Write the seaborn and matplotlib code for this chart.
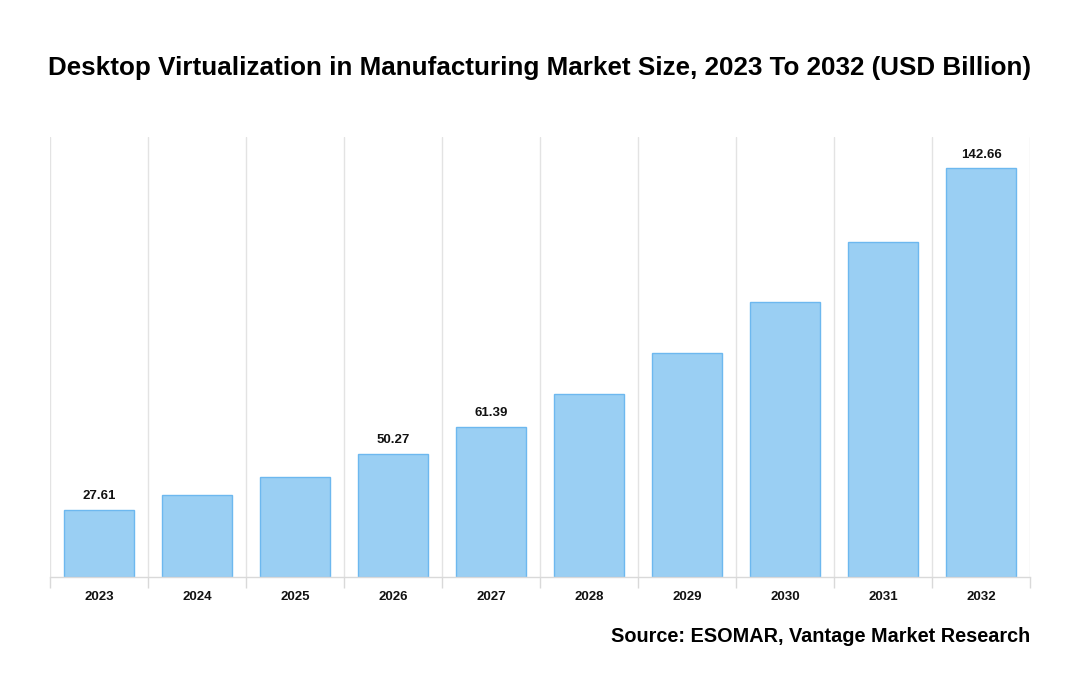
import matplotlib
matplotlib.use("Agg")
import matplotlib.pyplot as plt
import seaborn as sns
import pandas as pd
import numpy as np

years = ["2023", "2024", "2025", "2026", "2027", "2028", "2029", "2030", "2031", "2032"]
heights = [27.61, 33.6, 41.0, 50.27, 61.39, 75.0, 91.8, 112.3, 136.9, 167.2]
label_text = ["27.61", "", "", "50.27", "61.39", "", "", "", "", "142.66"]

sns.set_theme(style="white")
plt.rcParams['font.family'] = ['Liberation Sans', 'DejaVu Sans']

fig = plt.figure(figsize=(10.8, 7.0), dpi=100)
ax = fig.add_axes([50/1080, 1-577/700, 980/1080, 440/700])

df = pd.DataFrame({"year": years, "value": heights})
sns.barplot(data=df, x="year", y="value", ax=ax, color="#9ACFF3", saturation=1,
            width=0.714, edgecolor="#6DB8EF", linewidth=1.0)

ax.set_xlim(-0.5, len(years) - 0.5)
ax.set_ylim(0, 180)
ax.set_xlabel("")
ax.set_ylabel("")
ax.set_yticks([])
for s in ["top", "right", "left"]:
    ax.spines[s].set_visible(False)
ax.spines["bottom"].set_color("#d9d9d9")
ax.spines["bottom"].set_linewidth(1)

ax.set_xticks(np.arange(-0.5, len(years), 1.0), minor=True)
ax.grid(True, which="minor", axis="x", color="#e3e3e3", linewidth=1)
ax.grid(False, which="major")
ax.tick_params(axis="x", which="minor", length=8, color="#d9d9d9", width=1, bottom=True)
ax.tick_params(axis="x", which="major", length=0, pad=10)
for t in ax.get_xticklabels():
    t.set_fontweight("bold")
    t.set_fontsize(9.5)
    t.set_color("#111111")

for i, (h, lab) in enumerate(zip(heights, label_text)):
    if lab:
        ax.annotate(lab, (i, h), xytext=(0, 5.5), textcoords="offset points",
                    ha="center", va="bottom", fontsize=9.5, fontweight="bold", color="#111111")

title = fig.text(540/1080, 1-68/700, "Desktop Virtualization in Manufacturing Market Size, 2023 To 2032 (USD Billion)",
                 ha="center", va="center", fontsize=20, fontweight="bold", color="#000000")
fig.canvas.draw()
w = title.get_window_extent(renderer=fig.canvas.get_renderer()).width
title.set_fontsize(20 * 980 / w)

fig.text(1030/1080, 1-637/700, "Source: ESOMAR, Vantage Market Research",
         ha="right", va="center", fontsize=14.3, fontweight="bold", color="#000000")

fig.savefig("out.png", dpi=100)
